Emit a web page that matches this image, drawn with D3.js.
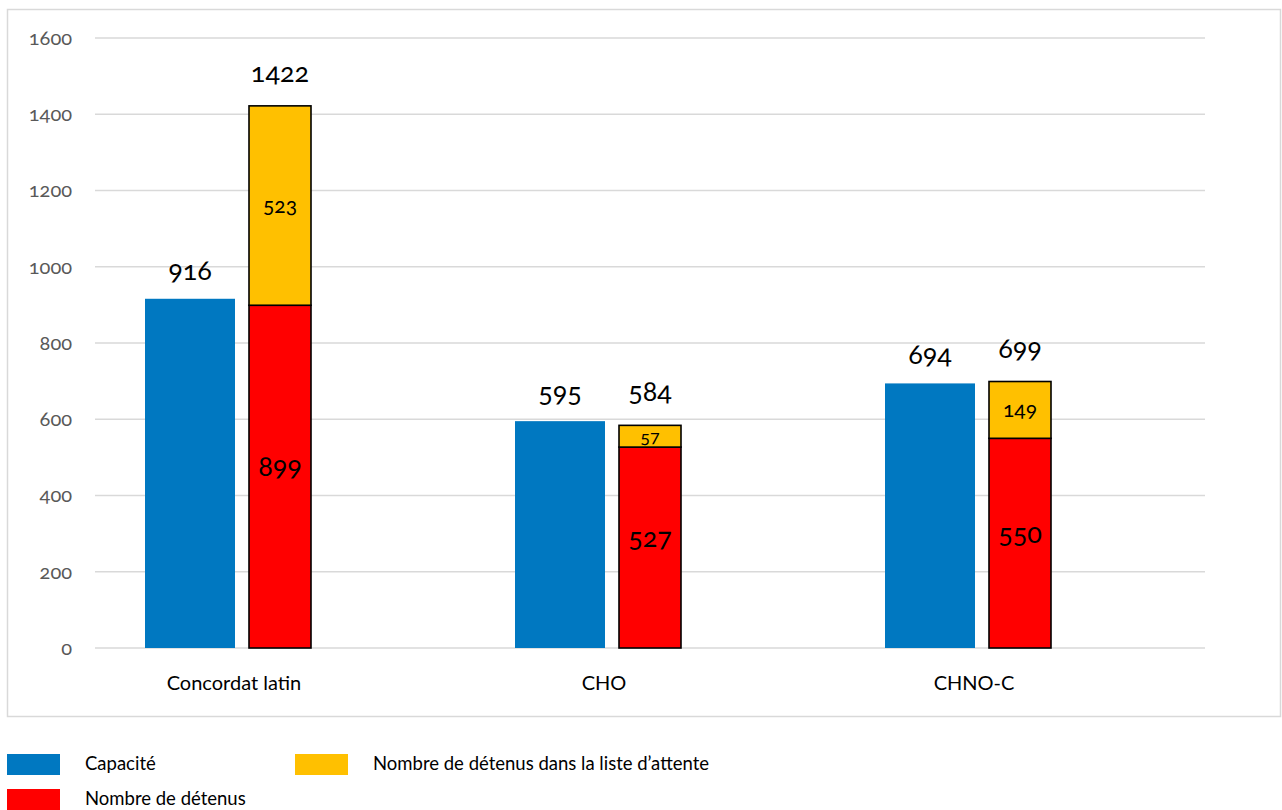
<!DOCTYPE html>
<html>
<head>
<meta charset="utf-8">
<script src="https://cdn.jsdelivr.net/npm/d3@7/dist/d3.min.js"></script>
<style>
  body { margin: 0; background: #fff; }
  svg text { font-family: Lato, "Open Sans", sans-serif; font-variant-numeric: oldstyle-nums; }
</style>
</head>
<body>
<svg id="chart" width="1282" height="810"></svg>
<script>
const categories = ['Concordat latin', 'CHO', 'CHNO-C'];
const capacite = [916, 595, 694];
const detenus = [899, 527, 550];
const attente = [523, 57, 149];
const yTicks = [0, 200, 400, 600, 800, 1000, 1200, 1400, 1600];

const svg = d3.select('#chart');

// outer frame
svg.append('rect')
  .attr('x', 7.5).attr('y', 9.5)
  .attr('width', 1273).attr('height', 707)
  .attr('fill', 'none').attr('stroke', '#d9d9d9').attr('stroke-width', 1.5);

const x = d3.scaleBand().domain(categories).range([95, 1205]);
const y = d3.scaleLinear().domain([0, 1600]).range([648, 38]);

// gridlines
svg.append('g')
  .selectAll('line')
  .data(yTicks)
  .join('line')
  .attr('x1', 95).attr('x2', 1205)
  .attr('y1', d => y(d)).attr('y2', d => y(d))
  .attr('stroke', '#d9d9d9').attr('stroke-width', 1.5);

// y axis labels
const yAxis = svg.append('g')
  .attr('transform', 'translate(72,0)')
  .call(d3.axisLeft(y).tickValues(yTicks).tickFormat(d3.format('d')).tickSize(0).tickPadding(0));
yAxis.select('.domain').remove();
yAxis.selectAll('text')
  .attr('fill', '#595959').attr('font-size', 20)
  .style('font-family', 'Lato, "Open Sans", sans-serif');

// x labels
svg.append('g')
  .selectAll('text')
  .data(categories)
  .join('text')
  .attr('x', d => x(d) + x.bandwidth() / 2 - 46)
  .attr('y', 690)
  .attr('text-anchor', 'middle')
  .attr('font-size', 20).attr('fill', '#000')
  .text(d => d);

const blueOff = 50, blueW = 90, stackOff = 154, stackW = 62;

// capacity bars
svg.append('g')
  .selectAll('rect')
  .data(categories)
  .join('rect')
  .attr('x', d => x(d) + blueOff)
  .attr('y', (d, i) => y(capacite[i]))
  .attr('width', blueW)
  .attr('height', (d, i) => y(0) - y(capacite[i]))
  .attr('fill', '#0078c1');

// detenus
svg.append('g')
  .selectAll('rect')
  .data(categories)
  .join('rect')
  .attr('x', d => x(d) + stackOff)
  .attr('y', (d, i) => y(detenus[i]))
  .attr('width', stackW)
  .attr('height', (d, i) => y(0) - y(detenus[i]))
  .attr('fill', '#ff0000').attr('stroke', '#000').attr('stroke-width', 1.6);

// waiting list
svg.append('g')
  .selectAll('rect')
  .data(categories)
  .join('rect')
  .attr('x', d => x(d) + stackOff)
  .attr('y', (d, i) => y(detenus[i] + attente[i]))
  .attr('width', stackW)
  .attr('height', (d, i) => y(detenus[i]) - y(detenus[i] + attente[i]))
  .attr('fill', '#ffc000').attr('stroke', '#000').attr('stroke-width', 1.6);

// value labels
const lab = svg.append('g').attr('fill', '#000').attr('text-anchor', 'middle');
categories.forEach((c, i) => {
  lab.append('text')
    .attr('x', x(c) + blueOff + blueW / 2)
    .attr('y', y(capacite[i]) - 19)
    .attr('font-size', 27)
    .text(capacite[i]);
  const tot = detenus[i] + attente[i];
  lab.append('text')
    .attr('x', x(c) + stackOff + stackW / 2)
    .attr('y', y(tot) - 24)
    .attr('font-size', 27)
    .text(tot);
  lab.append('text')
    .attr('x', x(c) + stackOff + stackW / 2)
    .attr('y', (y(0) + y(detenus[i])) / 2 - 10)
    .attr('dy', '0.35em')
    .attr('font-size', 27)
    .text(detenus[i]);
  lab.append('text')
    .attr('x', x(c) + stackOff + stackW / 2)
    .attr('y', (y(detenus[i]) + y(tot)) / 2)
    .attr('dy', '0.35em')
    .attr('font-size', i === 1 ? 18 : 21)
    .text(attente[i]);
});

// legend
const legend = [
  { name: 'Capacité', color: '#0078c1', lx: 7, ly: 754 },
  { name: 'Nombre de détenus dans la liste d\u2019attente', color: '#ffc000', lx: 295, ly: 754 },
  { name: 'Nombre de détenus', color: '#ff0000', lx: 7, ly: 789 }
];
const lg = svg.append('g');
lg.selectAll('rect')
  .data(legend)
  .join('rect')
  .attr('x', d => d.lx).attr('y', d => d.ly)
  .attr('width', 53).attr('height', 21)
  .attr('fill', d => d.color);
lg.selectAll('text')
  .data(legend)
  .join('text')
  .attr('x', d => d.lx + 78).attr('y', d => d.ly + 16)
  .attr('font-size', 18.5).attr('fill', '#000')
  .text(d => d.name);
</script>
</body>
</html>
